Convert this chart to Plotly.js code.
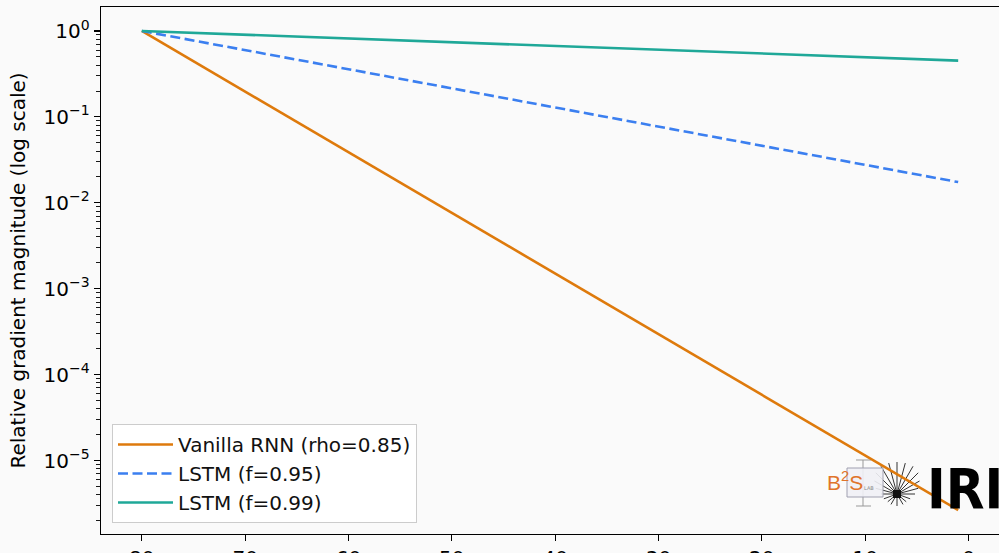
<!DOCTYPE html>
<html>
<head>
<meta charset="utf-8">
<script src="https://cdn.plot.ly/plotly-3.0.1.min.js"></script>
<style>html,body{margin:0;padding:0;background:#fafafa;}#chart{width:999px;height:553px;}</style>
</head>
<body>
<div id="chart"></div>
<script>
// time steps back (x) and relative gradient magnitudes
const steps = [80, 70, 60, 50, 40, 30, 20, 10, 1];
const vanillaRNN = [1, 0.1969, 0.03876, 0.007631, 0.0015024, 0.0002958, 0.00005824, 0.000011467, 0.000002655];
const lstm095 = [1, 0.5987, 0.3585, 0.2146, 0.1285, 0.07694, 0.04607, 0.02758, 0.01742];
const lstm099 = [1, 0.9044, 0.8179, 0.7397, 0.6690, 0.6050, 0.5472, 0.4948, 0.4521];
const seriesNames = ["Vanilla RNN (rho=0.85)", "LSTM (f=0.95)", "LSTM (f=0.99)"];
const xTicks = [80, 70, 60, 50, 40, 30, 20, 10, 0];
const yTickVals = [1e-5, 1e-4, 1e-3, 1e-2, 1e-1, 1];
const yTickText = ["10<sup>\u22125</sup>", "10<sup>\u22124</sup>", "10<sup>\u22123</sup>", "10<sup>\u22122</sup>", "10<sup>\u22121</sup>", "10<sup>0</sup>"];

const FONT = "DejaVu Sans, Verdana, sans-serif";
const L = 101, R = 999, T = 7, B = 534;
const px = x => (x - L) / (R - L);
const py = y => (B - y) / (B - T);

const minorVals = [];
for (let e = -6; e <= 0; e++) for (let m = 2; m <= 9; m++) minorVals.push(m * Math.pow(10, e));

const traces = [
  {x: steps, y: vanillaRNN, name: seriesNames[0], mode: "lines", line: {color: "#de7a0c", width: 2.6}},
  {x: steps, y: lstm095, name: seriesNames[1], mode: "lines", line: {color: "#3b7ff0", width: 2.6, dash: "10px,4.5px"}},
  {x: steps, y: lstm099, name: seriesNames[2], mode: "lines", line: {color: "#1fa898", width: 2.6}}
];

// logo (decoration) shapes
const shapes = [];
const cx = 897, cy = 494;
const rays = [[-180,16],[-165,22],[-150,26],[-135,30],[-120,32],[-105,32],[-90,32],[-75,32],[-60,32],[-45,30],[-30,26],[-15,22],[0,18],[20,14],[40,12],[60,12],[90,12],[120,12],[140,12],[160,14]];
rays.forEach(([a, len]) => {
  const r = a * Math.PI / 180;
  shapes.push({type: "line", xref: "paper", yref: "paper", layer: "below",
    x0: px(cx), y0: py(cy), x1: px(cx + len * Math.cos(r)), y1: py(cy + len * Math.sin(r)),
    line: {color: "#333", width: 1}});
});
shapes.push({type: "rect", xref: "paper", yref: "paper", layer: "below", x0: px(cx-4), x1: px(cx+4), y0: py(cy+4), y1: py(cy-4), fillcolor: "#111", line: {width: 0}});
shapes.push({type: "line", xref: "paper", yref: "paper", layer: "below", x0: px(863), x1: px(863), y0: py(460), y1: py(506), line: {color: "#999", width: 1}});
shapes.push({type: "line", xref: "paper", yref: "paper", layer: "below", x0: px(856), x1: px(871), y0: py(460), y1: py(460), line: {color: "#999", width: 1}});
shapes.push({type: "line", xref: "paper", yref: "paper", layer: "below", x0: px(856), x1: px(871), y0: py(506), y1: py(506), line: {color: "#999", width: 1}});
shapes.push({type: "rect", xref: "paper", yref: "paper", layer: "below", x0: px(847), x1: px(883), y0: py(497), y1: py(468), fillcolor: "rgba(240,240,245,0.9)", line: {color: "#a0a0b0", width: 1}});

const layout = {
  width: 999, height: 553,
  paper_bgcolor: "#fafafa", plot_bgcolor: "#fafafa",
  margin: {l: L, r: 999 - R, t: T, b: 553 - B, pad: 0},
  font: {family: FONT, size: 20, color: "#000"},
  showlegend: true,
  legend: {x: px(112), y: py(523), xanchor: "left", yanchor: "bottom",
    bgcolor: "rgba(255,255,255,0.85)", bordercolor: "#cccccc", borderwidth: 1,
    font: {family: FONT, size: 20, color: "#111"}, itemwidth: 55, tracegroupgap: 0},
  xaxis: {range: [83.95, -2.95], tickvals: xTicks, ticks: "outside", ticklen: 6, tickwidth: 1.2, tickcolor: "#000",
    showgrid: false, zeroline: false, showline: true, linecolor: "#000", linewidth: 1.3, mirror: true,
    tickfont: {family: FONT, size: 20, color: "#000"}},
  yaxis: {type: "log", range: [-5.855, 0.279], tickvals: yTickVals, ticktext: yTickText,
    ticks: "outside", ticklen: 6, tickwidth: 1.2, tickcolor: "#000",
    minor: {tickvals: minorVals, ticks: "outside", ticklen: 3.5, tickwidth: 0.9, tickcolor: "#000", showgrid: false},
    showgrid: false, zeroline: false, showline: true, linecolor: "#000", linewidth: 1.3, mirror: true,
    tickfont: {family: FONT, size: 20, color: "#000"},
    title: {text: "Relative gradient magnitude (log scale)", font: {family: FONT, size: 20, color: "#000"}, standoff: 12}},
  shapes: shapes,
  annotations: [
    {xref: "paper", yref: "paper", x: px(865), y: py(496), text: "B<sup>2</sup>S", showarrow: false, font: {family: "Liberation Sans, Arial, sans-serif", size: 21, color: "#e0742a"}},
    {xref: "paper", yref: "paper", x: px(876), y: py(493), text: "LAB", showarrow: false, font: {family: FONT, size: 5, color: "#888"}},
    {xref: "paper", yref: "paper", x: px(925), y: py(488), xanchor: "left", yanchor: "middle", text: "<b>IRIS</b>", showarrow: false, font: {family: "DejaVu Sans Condensed, Liberation Sans, Arial", size: 56, color: "#000"}}
  ]
};

Plotly.newPlot("chart", traces, layout, {displayModeBar: false, staticPlot: true});
</script>
</body>
</html>
